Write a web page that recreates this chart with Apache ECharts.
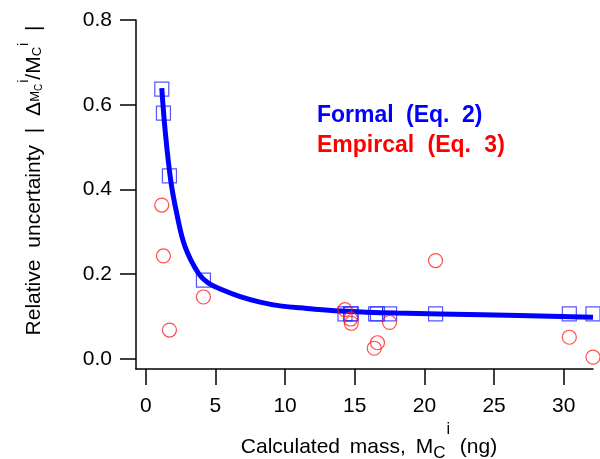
<!DOCTYPE html>
<html>
<head>
<meta charset="utf-8">
<script src="https://cdn.jsdelivr.net/npm/echarts@6/dist/echarts.min.js"></script>
<style>html,body{margin:0;padding:0;background:#fff}#c{width:600px;height:459px}</style>
</head>
<body>
<div id="c"></div>
<script>
// Formal (Eq. 2) — squares
const formalX = [1.15, 1.27, 1.70, 4.14, 14.3, 14.7, 14.75, 16.5, 16.63, 17.5, 20.8, 30.4, 32.1];
const formalY = [0.637, 0.580, 0.432, 0.186, 0.106, 0.106, 0.106, 0.106, 0.106, 0.106, 0.106, 0.106, 0.106];
// Empircal (Eq. 3) — circles
const empX = [1.15, 1.27, 1.70, 4.14, 14.3, 14.7, 14.75, 16.4, 16.63, 17.5, 20.8, 30.4, 32.1];
const empY = [0.363, 0.243, 0.068, 0.146, 0.116, 0.094, 0.084, 0.025, 0.038, 0.086, 0.232, 0.051, 0.004];
// Formal curve
const curveX = [1.15, 1.39, 1.79, 2.22, 2.82, 3.78, 4.49, 5.35, 6.78, 8.21, 9.64, 11.56, 13.95, 18.0, 24.2, 32.1];
const curveY = [0.639, 0.540, 0.422, 0.344, 0.265, 0.202, 0.179, 0.165, 0.147, 0.134, 0.125, 0.119, 0.113, 0.108, 0.104, 0.098];
// Ticks
const xTicks = [0, 5, 10, 15, 20, 25, 30];
const xTickLabels = ['0', '5', '10', '15', '20', '25', '30'];
const yTicks = [0, 0.2, 0.4, 0.6, 0.8];
const yTickLabels = ['0.0', '0.2', '0.4', '0.6', '0.8'];
const seriesNames = ['Formal (Eq. 2)', 'Empircal (Eq. 3)'];

const zip = (a, b) => a.map((v, i) => [v, b[i]]);
const FONT = "'Liberation Sans', Arial, sans-serif";
const FS = 21;
// wide spaces like the reference renderer
const spaced = (s, st) => s.split(' ').map(w => '{' + st + '|' + w + '}').join('{' + st + 's| }');

const chart = echarts.init(document.getElementById('c'), null, {renderer: 'canvas'});
chart.setOption({
  animation: false,
  backgroundColor: '#fff',
  textStyle: {fontFamily: FONT},
  grid: {left: 136, right: 7, top: 20, bottom: 90, containLabel: false, outerBoundsMode: 'none'},
  legend: {
    show: true, orient: 'vertical', left: 307, top: 99, icon: 'none',
    itemWidth: 0, itemHeight: 23, itemGap: 7, selectedMode: false,
    formatter: name => spaced(name, name === seriesNames[0] ? 'b' : 'r'),
    textStyle: {
      fontSize: 23, fontWeight: 'bold', fontFamily: FONT,
      rich: {
        b: {fontSize: 23, fontWeight: 'bold', color: '#0000ff', fontFamily: FONT},
        bs: {fontSize: 23, fontWeight: 'bold', color: '#0000ff', fontFamily: FONT, padding: [0, 6, 0, 0]},
        r: {fontSize: 23, fontWeight: 'bold', color: '#ff0000', fontFamily: FONT},
        rs: {fontSize: 23, fontWeight: 'bold', color: '#ff0000', fontFamily: FONT, padding: [0, 7, 0, 0]}
      }
    },
    data: [
      {name: seriesNames[0], textStyle: {color: '#0000ff'}},
      {name: seriesNames[1], textStyle: {color: '#ff0000'}}
    ]
  },
  xAxis: {
    type: 'value', min: -0.7, max: 32.1,
    axisLine: {show: true, onZero: false, lineStyle: {color: '#000', width: 1.5}},
    axisTick: {show: true, length: 16, lineStyle: {color: '#000', width: 1.5}, customValues: xTicks},
    axisLabel: {show: true, margin: 27, fontSize: FS, color: '#000', fontFamily: FONT,
      customValues: xTicks, formatter: v => xTickLabels[xTicks.indexOf(v)]},
    splitLine: {show: false},
    name: '{n|Calculated}{ns| }{n|mass,}{ns| }{n|M}{s|C}{p|i}{ns| }{n|(ng)}',
    nameLocation: 'middle', nameGap: 53,
    nameTextStyle: {
      color: '#000', fontFamily: FONT, padding: [0, 0, 0, 9],
      rich: {
        n: {fontSize: FS, lineHeight: 50, color: '#000', fontFamily: FONT},
        ns: {fontSize: FS, lineHeight: 50, color: '#000', fontFamily: FONT, padding: [0, 4, 0, 0]},
        s: {fontSize: 17, verticalAlign: 'bottom', color: '#000', fontFamily: FONT, padding: [0, 0, 10, 0]},
        p: {fontSize: 16, verticalAlign: 'top', color: '#000', fontFamily: FONT, padding: [0, 0, 0, 1]}
      }
    }
  },
  yAxis: {
    type: 'value', min: -0.024, max: 0.8,
    axisLine: {show: true, onZero: false, lineStyle: {color: '#000', width: 1.5}},
    axisTick: {show: true, length: 16, lineStyle: {color: '#000', width: 1.5}, customValues: yTicks},
    axisLabel: {show: true, margin: 24, fontSize: FS, color: '#000', fontFamily: FONT,
      customValues: yTicks, formatter: v => yTickLabels[yTicks.findIndex(t => Math.abs(t - v) < 1e-9)]},
    splitLine: {show: false},
    name: '{n|Relative}{ns| }{n|uncertainty}{ns| }{n||}{ns| }{n|Δ}{s|M}{ss|C}{p|i}{n|/M}{s2|C}{p|i}{ns| }{n||}',
    nameLocation: 'middle', nameRotate: 90, nameGap: 80,
    nameTextStyle: {
      color: '#000', fontFamily: FONT, padding: [0, 0, 0, 28],
      rich: {
        n: {fontSize: FS, lineHeight: 43, color: '#000', fontFamily: FONT},
        ns: {fontSize: FS, lineHeight: 43, color: '#000', fontFamily: FONT, padding: [0, 6, 0, 0]},
        s: {fontSize: 13, verticalAlign: 'bottom', color: '#000', fontFamily: FONT, padding: [0, 0, 14, 0]},
        ss: {fontSize: 10, verticalAlign: 'bottom', color: '#000', fontFamily: FONT, padding: [0, 0, 12, 0]},
        s2: {fontSize: 13, verticalAlign: 'bottom', color: '#000', fontFamily: FONT, padding: [0, 0, 12, 0]},
        p: {fontSize: 14, verticalAlign: 'top', color: '#000', fontFamily: FONT, padding: [4, 0, 0, 1]}
      }
    }
  },
  series: [
    {
      name: seriesNames[0], type: 'scatter', symbol: 'rect', symbolSize: 14, z: 2,
      itemStyle: {color: 'rgba(0,0,0,0)', borderColor: '#2a2aff', borderWidth: 1.2},
      data: zip(formalX, formalY)
    },
    {
      name: 'curve', type: 'line', smooth: 0.4, showSymbol: false, symbol: 'none', z: 3,
      lineStyle: {color: '#0000ff', width: 5}, data: zip(curveX, curveY)
    },
    {
      name: seriesNames[1], type: 'scatter', symbol: 'circle', symbolSize: 14, z: 4,
      itemStyle: {color: 'rgba(0,0,0,0)', borderColor: '#ff2020', borderWidth: 1.2},
      data: zip(empX, empY)
    }
  ]
});
</script>
</body>
</html>
